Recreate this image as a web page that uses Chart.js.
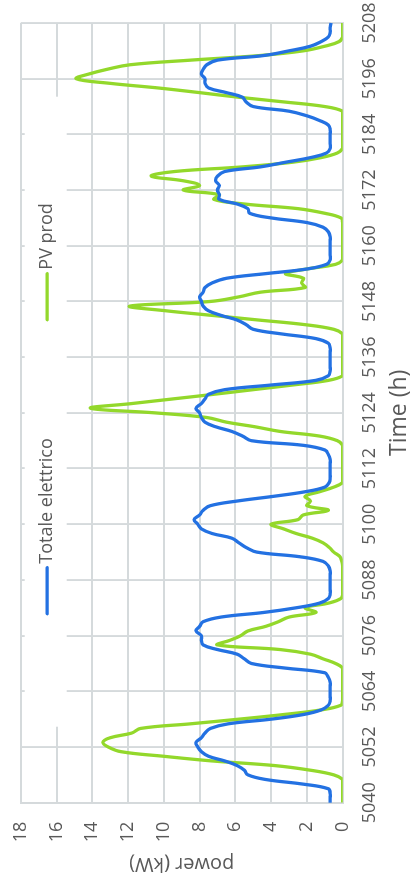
<!DOCTYPE html>
<html>
<head>
<meta charset="utf-8">
<script src="https://cdn.jsdelivr.net/npm/chart.js@4/dist/chart.umd.min.js"></script>
<style>
html,body{margin:0;padding:0;background:#fff;overflow:hidden;width:414px;height:888px;}
#wrap{position:absolute;left:0;top:0;width:888px;height:414px;transform-origin:0 0;transform:translate(0,888px) rotate(-90deg);background:#fff;}
</style>
</head>
<body>
<div id="wrap"><canvas id="c" width="888" height="414"></canvas></div>
<script>
// Hours 5040 .. 5213 (the blue series runs a few hours past the last tick)
const firstHour = 5040;
const lastTick = 5208;

// "Totale elettrico" (kW), hourly, one row per day
const totaleElettrico = [
  0.7,0.7,0.7,0.8,2.2,4.3,5.3,5.5,5.9,6.6,7.5,7.9,8.1,8.2,7.9,7.7,7.4,6.4,4.0,2.2,1.2,0.8,0.7,0.7,
  0.7,0.7,0.7,0.8,1.0,3.2,5.1,5.5,5.9,7.0,7.8,7.9,7.9,8.2,8.0,7.8,6.8,4.4,2.6,1.3,0.8,0.7,0.7,0.7,
  0.7,0.7,0.7,0.8,1.1,2.4,4.8,5.4,5.8,6.2,7.3,7.9,8.1,8.3,8.0,7.8,7.4,5.9,3.9,2.1,1.0,0.75,0.7,0.7,
  0.7,0.7,0.7,0.8,1.0,2.2,5.1,5.6,6.2,7.1,7.7,7.9,8.0,8.2,7.9,7.7,7.5,6.6,4.0,1.5,0.8,0.7,0.7,0.7,
  0.7,0.7,0.7,0.8,1.5,3.4,5.0,5.4,5.9,6.8,7.5,7.8,7.9,8.0,7.8,7.7,7.3,6.5,4.3,2.0,0.9,0.7,0.7,0.7,
  0.7,0.7,0.7,0.8,1.1,2.0,4.0,5.2,5.3,5.9,6.9,6.9,7.0,6.9,7.1,7.0,6.6,4.6,3.2,1.8,0.9,0.7,0.7,0.7,
  0.7,0.7,0.8,1.3,2.0,3.0,5.0,5.4,5.6,6.5,7.5,7.7,7.7,7.9,7.8,7.6,7.0,4.4,3.0,1.8,1.2,0.8,0.7,0.7,
  0.65,0.6,0.6,0.6,0.6,0.6
];

// "PV prod" (kW), hourly, one row per day
const pvProd = [
  0,0,0,0,0,0,0.5,1.8,3.8,7.3,10.0,12.4,13.1,13.4,13.0,11.8,11.3,8.5,5.8,3.3,1.2,0.1,0,0,
  0,0,0,0,0,0,0.4,1.1,1.8,3.5,7.0,6.3,5.7,5.3,4.3,3.6,3.0,1.5,2.1,0.8,0.1,0,0,0,
  0,0,0,0,0.05,0.15,0.5,0.75,1.1,1.7,2.6,3.3,4.0,2.5,2.2,0.8,2.0,1.8,2.1,1.3,0.5,0,0,0,
  0,0,0,0,0,0,0.3,1.3,3.5,4.9,6.5,7.6,10.5,14.1,11.8,9.5,7.2,5.0,2.8,0.8,0,0,0,0,
  0,0,0,0,0,0,0.5,2.1,4.7,7.3,9.9,11.9,7.4,5.8,4.6,2.1,2.3,2.2,3.2,2.0,0.4,0,0,0,
  0,0,0,0,0,0,0.1,1.0,2.5,5.5,7.2,6.9,8.9,8.0,8.9,10.7,9.4,5.6,2.8,1.2,0.3,0,0,0,
  0,0,0,0,0,0,1.0,3.3,5.8,8.0,10.3,13.0,14.9,14.2,13.2,11.9,8.5,4.6,2.2,1.0,0.2,0,0,0,
  0
];

const hours = totaleElettrico.map((_, i) => firstHour + i);

const xTicks = [5040,5052,5064,5076,5088,5100,5112,5124,5136,5148,5160,5172,5184,5196,5208];
const yTicks = [0,2,4,6,8,10,12,14,16,18];

const seriesNames = ['Totale elettrico', 'PV prod'];
const seriesColors = ['#2371e2', '#93d82b'];

const textColor = '#595959';
const gridColor = '#d5dadc';
Chart.defaults.font.family = '"Open Sans", sans-serif';

const legendPlugin = {
  id: 'inlineLegend',
  beforeDatasetsDraw(chart) {
    const ctx = chart.ctx, a = chart.chartArea;
    ctx.save();
    ctx.fillStyle = '#ffffff';
    ctx.fillRect(a.left + 76, a.top + 4, 630, 42);
    const cy = a.top + 26.5;
    const starts = [189, 483];
    ctx.font = '18px "Open Sans", sans-serif';
    ctx.textBaseline = 'middle';
    ctx.textAlign = 'left';
    chart.data.datasets.forEach((ds, i) => {
      const x0 = a.left + starts[i];
      ctx.strokeStyle = ds.borderColor;
      ctx.lineWidth = 3.2;
      ctx.lineCap = 'round';
      ctx.beginPath();
      ctx.moveTo(x0, cy);
      ctx.lineTo(x0 + 46, cy);
      ctx.stroke();
      ctx.fillStyle = textColor;
      ctx.fillText(ds.label, x0 + 50, cy);
    });
    ctx.restore();
  }
};

new Chart(document.getElementById('c'), {
  type: 'line',
  data: {
    datasets: [
      {
        label: seriesNames[0],
        data: hours.map((h, i) => ({x: h, y: totaleElettrico[i]})),
        borderColor: seriesColors[0],
        borderWidth: 3.3,
        pointRadius: 0,
        tension: 0.4,
        fill: false,
        clip: {left: 2, top: 2, right: false, bottom: 2}
      },
      {
        label: seriesNames[1],
        data: hours.slice(0, pvProd.length).map((h, i) => ({x: h, y: pvProd[i]})),
        borderColor: seriesColors[1],
        borderWidth: 3.3,
        pointRadius: 0,
        tension: 0.4,
        fill: false
      }
    ]
  },
  options: {
    responsive: false,
    animation: false,
    devicePixelRatio: 1,
    layout: {padding: {top: 20.7, right: 23, left: 0, bottom: 0}},
    plugins: {legend: {display: false}, tooltip: {enabled: false}},
    scales: {
      x: {
        type: 'linear',
        min: firstHour,
        max: lastTick,
        afterBuildTicks: s => { s.ticks = xTicks.map(v => ({value: v})); },
        afterFit: s => { s.height = 71.3; s.paddingLeft = 0; s.paddingRight = 0; },
        ticks: {
          color: textColor,
          font: {size: 18},
          padding: 16,
          maxRotation: 0,
          autoSkip: false,
          callback: v => String(v)
        },
        grid: {color: gridColor, lineWidth: 1.9, drawTicks: false},
        border: {display: true, color: gridColor, width: 1.9},
        title: {display: true, text: 'Time (h)', color: textColor, font: {size: 23}, padding: {top: 0, bottom: 1}}
      },
      y: {
        min: 0,
        max: 18,
        afterBuildTicks: s => { s.ticks = yTicks.map(v => ({value: v})); },
        afterFit: s => { s.width = 85.3; s.paddingTop = 0; s.paddingBottom = 0; },
        ticks: {
          color: textColor,
          font: {size: 18},
          padding: 19,
          callback: v => String(v)
        },
        grid: {color: gridColor, lineWidth: 1.9, drawTicks: false},
        border: {display: true, color: gridColor, width: 1.9},
        title: {display: true, text: 'power (kW)', color: textColor, font: {size: 20}, padding: {top: 12, bottom: 0}}
      }
    }
  },
  plugins: [legendPlugin]
});
</script>
</body>
</html>
